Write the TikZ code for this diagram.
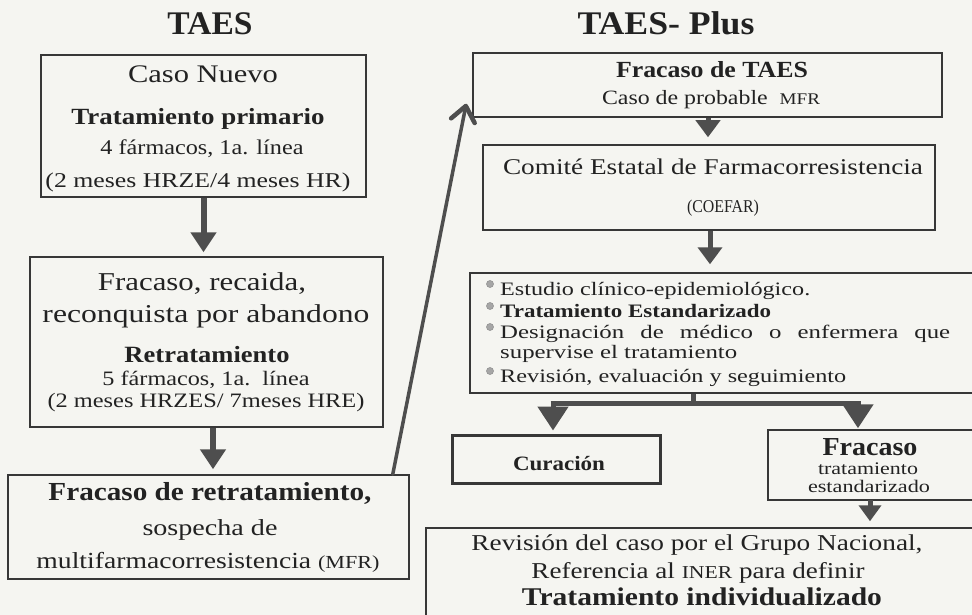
\documentclass[tikz,border=0pt]{standalone}
\usepackage{fontspec}
\setmainfont{Liberation Serif}
\usetikzlibrary{arrows.meta,calc,fit}
\definecolor{bgc}{RGB}{245,245,241}
\definecolor{linec}{RGB}{55,55,55}
\definecolor{arrc}{RGB}{78,78,78}
\definecolor{txtc}{RGB}{34,34,34}
\newcommand{\fw}[2]{\resizebox{#1pt}{\height}{#2}}
\newcommand{\fsz}[1]{\fontsize{#1}{#1}\selectfont}
\newcommand{\smc}[1]{\scalebox{0.8}{#1}}
\newlength{\natw}
\begin{document}
\begin{tikzpicture}[x=1pt,y=-1pt,
  box/.style={draw=linec, line width=1.5pt, inner sep=0pt},
  tx/.style={anchor=base, inner sep=0pt, text=txtc},
  txl/.style={anchor=base west, inner sep=0pt, text=txtc},
  fat/.style={draw=arrc, line width=6pt, -{Triangle[width=25pt,length=20pt]}},
  fatsmall/.style={draw=arrc, line width=5pt, -{Triangle[width=24pt,length=17pt]}},
  thinarrow/.style={draw=arrc, line width=3.5pt, line cap=round, -{Straight Barb[length=15pt 0,width=24pt 0,line width=4.5pt 0, round]}},
  bul/.style={circle, fill=gray!70, draw=gray!85, line width=0.6pt, inner sep=0pt, minimum size=7pt}]
\useasboundingbox (0,0) rectangle (972,615);
\clip (0,0) rectangle (972,615);
\fill[bgc] (0,0) rectangle (972,615);

% titles
\node[tx, font=\fsz{33}\bfseries] (t1) at (210,35) {\fw{85}{TAES}};
\node[tx, font=\fsz{33}\bfseries] (t2) at (666,35) {\fw{177}{TAES- Plus}};

% left boxes
\node[box, fit={(41,55) (366,197)}] (b1) {};
\node[box, fit={(30,257) (383,427)}] (b2) {};
\node[box, fit={(8,475) (409,579)}] (b3) {};

\node[tx, font=\fsz{25.3}] (b1a) at (203,83) {\fw{150}{Caso Nuevo}};
\node[tx, font=\fsz{23.2}\bfseries] (b1b) at (198,125) {\fw{253}{Tratamiento primario}};
\node[tx, font=\fsz{21}] (b1c) at (202,155) {\fw{203}{4 fármacos, 1a. línea}};
\node[tx, font=\fsz{21}] (b1d) at (198,187) {\fw{305}{(2 meses HRZE/4 meses HR)}};

\node[tx, font=\fsz{25.7}] (b2a) at (202,290) {\fw{208}{Fracaso, recaida,}};
\node[tx, font=\fsz{25.7}] (b2b) at (206,322) {\fw{327}{reconquista por abandono}};
\node[tx, font=\fsz{23.3}\bfseries] (b2c) at (207,362) {\fw{165}{Retratamiento}};
\node[tx, font=\fsz{20.5}] (b2d) at (206,385) {\fw{207}{5 fármacos, 1a.\ \ línea}};
\node[tx, font=\fsz{20.5}] (b2e) at (206,407) {\fw{317}{(2 meses HRZES/ 7meses HRE)}};

\node[tx, font=\fsz{26}\bfseries] (b3a) at (210,500) {\fw{323}{Fracaso de retratamiento,}};
\node[tx, font=\fsz{23}] (b3b) at (210,535) {\fw{135}{sospecha de}};
\node[tx, font=\fsz{23}] (b3c) at (208,568) {\fw{343}{multifarmacorresistencia \smc{(MFR)}}};

% right boxes
\node[box, fit={(473,53) (942,117)}] (r1) {};
\node[box, fit={(483,145) (935,230)}] (r2) {};
\node[box, fit={(470,273) (990,393)}] (r3) {};
\node[box, line width=3pt, fit={(452,435) (660,483)}] (cur) {};
\node[box, fit={(768,430) (990,500)}] (fra) {};
\node[box, fit={(426,528) (990,640)}] (fin) {};

\node[tx, font=\fsz{23.1}\bfseries] (r1a) at (712,78) {\fw{192}{Fracaso de TAES}};
\node[tx, font=\fsz{20.3}] (r1b) at (711,105) {\fw{218}{Caso de probable\ \ \smc{MFR}}};
\node[tx, font=\fsz{22.5}] (r2a) at (713,175) {\fw{420}{Comité Estatal de Farmacorresistencia}};
\node[tx, font=\fsz{22.5}] (r2b) at (723,212) {\fw{72}{\smc{(COEFAR)}}};

\node[txl, font=\fsz{19}] (r3a) at (500,295) {\fw{310}{Estudio clínico-epidemiológico.}};
\node[txl, font=\fsz{19}\bfseries] (r3b) at (500,317) {\fw{271}{Tratamiento Estandarizado}};
\node[txl, font=\fsz{19}] (r3c) at (500,338) {\settowidth{\natw}{supervise el tratamiento}%
  \pgfmathsetmacro{\rf}{237/\natw}\pgfmathsetlengthmacro{\jw}{450/\rf}%
  \scalebox{\rf}[1]{\makebox[\jw][s]{Designación de médico o enfermera que}}};
\node[txl, font=\fsz{19}] (r3d) at (500,358) {\fw{237}{supervise el tratamiento}};
\node[txl, font=\fsz{19}] (r3e) at (500,382) {\fw{346}{Revisión, evaluación y seguimiento}};
\node[bul] (u1) at (490,284) {};
\node[bul] (u2) at (490,306) {};
\node[bul] (u3) at (490,327) {};
\node[bul] (u4) at (490,371) {};

\node[tx, font=\fsz{20.4}\bfseries] (cura) at (559,470) {\fw{92}{Curación}};
\node[tx, font=\fsz{25.9}\bfseries] (fraa) at (870,455) {\fw{95}{Fracaso}};
\node[tx, font=\fsz{17.7}] (frab) at (868,474) {\fw{100}{tratamiento}};
\node[tx, font=\fsz{17.7}] (frac) at (869,492) {\fw{122}{estandarizado}};

\node[tx, font=\fsz{22.7}] (fina) at (697,550) {\fw{451}{Revisión del caso por el Grupo Nacional,}};
\node[tx, font=\fsz{22.7}] (finb) at (698,578) {\fw{333}{Referencia al \smc{INER} para definir}};
\node[tx, font=\fsz{25.5}\bfseries] (finc) at (702,605) {\fw{360}{Tratamiento individualizado}};

% connectors
\draw[fat, shorten >=4pt] (b1.south) -- (b1.south |- b2.north);
\coordinate (a2) at ($(b2.south)+(6.5,0)$);
\draw[fat, shorten >=5pt] (a2) -- (a2 |- b3.north);
\draw[thinarrow] ($(b3.north east)+(-17,0)$) -- ($(r1.south west)+(-6,-14)$);
\coordinate (a3) at ($(r1.south)+(0.5,0)$);
\draw[fatsmall, shorten >=7pt] (a3) -- (a3 |- r2.north);
\coordinate (a4) at ($(r2.south)+(1,0)$);
\draw[fatsmall, shorten >=8pt] (a4) -- (a4 |- r3.north);

\coordinate (br) at (693,403);
\coordinate (brl) at (553,403);
\coordinate (brr) at (858,403);
\draw[draw=arrc, line width=5pt] (r3.south -| br) -- (br);
\draw[draw=arrc, line width=5pt] ($(brl)+(-2.5,0)$) -- ($(brr)+(2.5,0)$);
\draw[draw=arrc, line width=5pt, -{Triangle[width=30pt,length=24pt]}, shorten >=3pt] (brl) -- (brl |- cur.north);
\draw[draw=arrc, line width=5pt, -{Triangle[width=30pt,length=24pt]}, shorten >=1pt] (brr) -- (brr |- fra.north);

\coordinate (a5) at (870,500);
\draw[draw=arrc, line width=5pt, -{Triangle[width=22pt,length=16pt]}, shorten >=6pt] (a5) -- (a5 |- fin.north);
\end{tikzpicture}
\end{document}
